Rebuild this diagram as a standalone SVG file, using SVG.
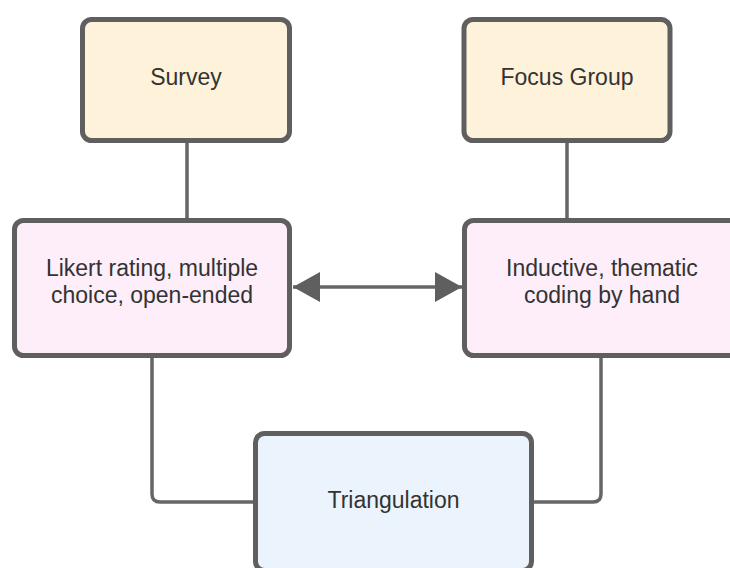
<svg xmlns="http://www.w3.org/2000/svg" width="730" height="568" viewBox="0 0 730 568">
<style>
.box{stroke:#5f5f5f;stroke-width:5}
.tan{fill:#fef2da}
.pink{fill:#fdeef9}
.blue{fill:#ebf3fd}
.lbl{font-family:"Liberation Sans",Arial,sans-serif;font-size:23px;fill:#333333;text-anchor:middle}
.conn{fill:none;stroke:#666666;stroke-width:3.5}
</style>
<defs>
<marker id="ah" viewBox="0 0 27 30" refX="27" refY="15" markerWidth="27" markerHeight="30" markerUnits="userSpaceOnUse" orient="auto-start-reverse">
<path d="M0,0 L27,15 L0,30 z" fill="#5f5f5f"/>
</marker>
</defs>
<rect width="730" height="568" fill="#ffffff"/>
<g id="connectors">
<line class="conn" x1="187" y1="142" x2="187" y2="219"/>
<line class="conn" x1="567" y1="142" x2="567" y2="219"/>
<path class="conn" d="M152,357 V494 Q152,502 160,502 H254"/>
<path class="conn" d="M601,357 V494 Q601,502 593,502 H533"/>
<line class="conn" x1="293" y1="287" x2="462" y2="287" stroke-width="4" marker-start="url(#ah)" marker-end="url(#ah)"/>
</g>
<g id="survey">
<rect class="box tan" x="82.5" y="19.5" width="207" height="121" rx="9"/>
<text class="lbl" x="186" y="85">Survey</text>
</g>
<g id="focus-group">
<rect class="box tan" x="464" y="19.5" width="206" height="121" rx="9"/>
<text class="lbl" x="567" y="85">Focus Group</text>
</g>
<g id="likert">
<rect class="box pink" x="14.5" y="220.5" width="275" height="135" rx="9"/>
<text class="lbl" x="152" y="276">Likert rating, multiple</text>
<text class="lbl" x="152" y="303">choice, open-ended</text>
</g>
<g id="inductive">
<rect class="box pink" x="464.5" y="220.5" width="275" height="135" rx="9"/>
<text class="lbl" x="602" y="276">Inductive, thematic</text>
<text class="lbl" x="602" y="303">coding by hand</text>
</g>
<g id="triangulation">
<rect class="box blue" x="255.5" y="433.5" width="276" height="137" rx="9"/>
<text class="lbl" x="393.5" y="508">Triangulation</text>
</g>
</svg>
